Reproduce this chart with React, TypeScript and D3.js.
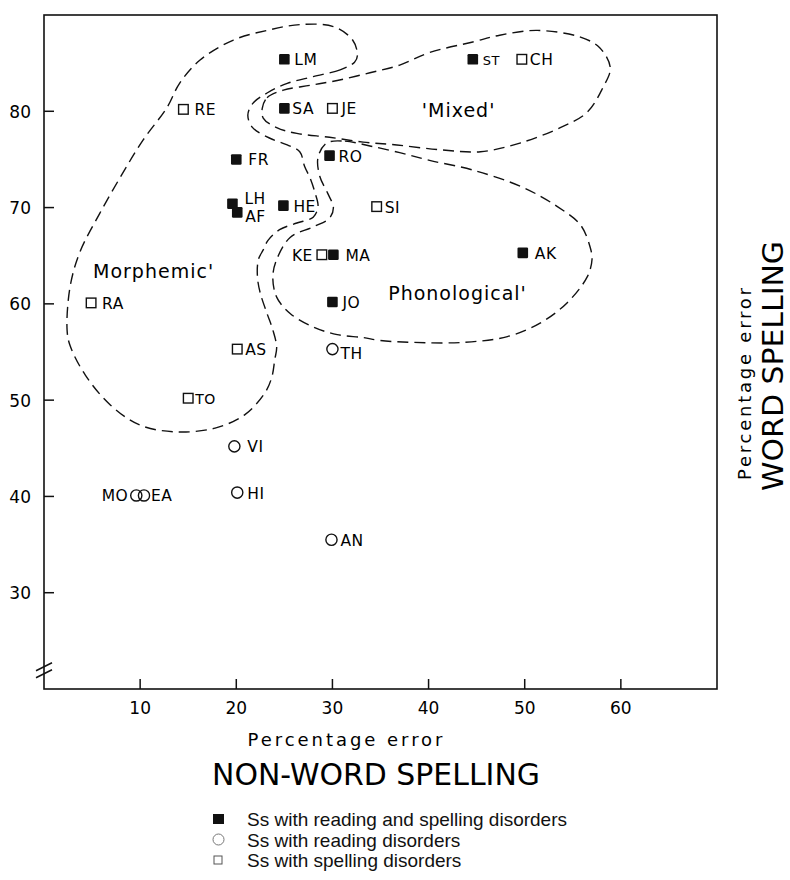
import React, { useEffect, useRef } from 'react';
import * as d3 from 'd3';

// Subjects, percentage error on non-word (x) and word (y) spelling
const subjects = ['LM', 'SA', 'JE', 'RE', 'FR', 'RO', 'LH', 'AF', 'HE', 'SI', 'KE', 'MA', 'JO', 'RA', 'ST', 'CH', 'AK', 'AS', 'TH', 'TO', 'VI', 'MO', 'EA', 'HI', 'AN'];
const nonWordError = [25, 25, 30, 14.5, 20, 29.7, 19.6, 20.1, 24.9, 34.6, 28.9, 30.1, 30, 4.9, 44.6, 49.7, 49.8, 20.1, 30, 15, 19.8, 9.6, 10.4, 20.1, 29.9];
const wordError = [85.4, 80.3, 80.3, 80.2, 75, 75.4, 70.4, 69.5, 70.2, 70.1, 65.1, 65.1, 60.2, 60.1, 85.4, 85.4, 65.3, 55.3, 55.3, 50.2, 45.2, 40.1, 40.1, 40.4, 35.5];
// both = reading and spelling disorders, reading = reading only, spelling = spelling only
const groups = ['both', 'both', 'spelling', 'spelling', 'both', 'both', 'both', 'both', 'both', 'spelling', 'spelling', 'both', 'both', 'spelling', 'both', 'spelling', 'both', 'spelling', 'reading', 'spelling', 'reading', 'reading', 'reading', 'reading', 'reading'];

const xTicks = [10, 20, 30, 40, 50, 60];
const yTicks = [30, 40, 50, 60, 70, 80];

// Hand-drawn group outlines, in data units
const morphemicOutline: [number, number][] = [
  [32.3, 85.1], [30.8, 84.3], [28.0, 83.6], [25.3, 82.9], [23.2, 81.9], [21.7, 80.8], [21.2, 79.6],
  [21.7, 78.3], [23.5, 77.2], [25.3, 76.5], [26.6, 75.8], [27.1, 74.3], [27.7, 73.0], [28.2, 71.5],
  [28.5, 70.1], [28.0, 69.0], [26.3, 68.4], [24.5, 67.7], [23.3, 66.6], [22.8, 65.6], [22.3, 64.6],
  [22.2, 62.8], [22.5, 61.1], [23.2, 59.0], [23.8, 57.3], [24.2, 55.5], [24.0, 54.2], [23.7, 52.4],
  [23.0, 50.8], [20.9, 48.5], [17.8, 47.1], [13.8, 46.7], [10.0, 47.4], [6.9, 49.5], [4.3, 52.6],
  [2.7, 55.7], [2.4, 57.3], [2.7, 61.7], [3.7, 65.3], [5.8, 69.4], [8.2, 73.6], [10.3, 77.0],
  [12.8, 80.4], [14.1, 82.9], [16.2, 85.3], [19.7, 87.4], [23.2, 88.4], [26.6, 89.0], [30.1, 88.8],
  [32.1, 87.4], [32.6, 85.8]
];
const mixedOutline: [number, number][] = [
  [22.7, 80.3], [23.2, 81.4], [24.9, 82.2], [27.7, 82.7], [30.5, 83.2], [33.9, 84.0], [37.0, 84.8],
  [40.1, 86.1], [44.6, 87.2], [47.4, 87.9], [51.3, 88.4], [55.8, 87.7], [57.8, 86.6], [58.9, 84.5],
  [58.1, 82.4], [56.5, 79.9], [53.7, 78.3], [49.5, 76.7], [45.4, 75.8], [41.2, 76.0], [36.7, 76.5],
  [33.2, 76.8], [29.7, 77.3], [26.3, 77.7], [24.2, 78.3], [22.8, 79.3]
];
const phonologicalOutline: [number, number][] = [
  [29.4, 76.7], [31.3, 76.9], [33.9, 76.4], [37.0, 75.7], [40.1, 74.9], [44.6, 73.9], [49.8, 72.1],
  [53.4, 70.1], [55.8, 68.2], [56.8, 65.9], [57.0, 64.6], [56.5, 62.8], [54.4, 60.1], [51.6, 58.0],
  [48.2, 56.6], [43.6, 56.0], [38.4, 56.0], [34.9, 56.2], [33.2, 56.5], [30.5, 56.8], [28.0, 57.6],
  [25.6, 59.0], [24.2, 60.7], [23.8, 62.8], [24.2, 64.6], [25.6, 66.9], [28.0, 68.0], [29.7, 68.9],
  [30.1, 70.0], [29.5, 71.5], [28.7, 73.2], [28.5, 75.2]
];
const regionNames = ["Morphemic'", "'Mixed'", "Phonological'"];

const legendLabels = [
  'Ss with reading and spelling disorders',
  'Ss with reading disorders',
  'Ss with spelling disorders'
];

// label placement tweaks (pixels from marker centre)
const labelTweaks: Record<string, { dx?: number; dy?: number; end?: boolean; size?: number }> = {
  SA: { dx: 8 }, JE: { dx: 9 }, RE: { dx: 11 }, FR: { dx: 12 }, RO: { dx: 9 },
  LH: { dx: 12, dy: 0 }, AF: { dx: 8, dy: 10 }, SI: { dx: 8 }, KE: { dx: -9, end: true },
  MA: { dx: 12 }, RA: { dx: 11 }, ST: { dx: 10, size: 13 }, CH: { dx: 8 }, AK: { dx: 12 },
  AS: { dx: 8 }, TH: { dx: 8, dy: 10 }, TO: { dx: 7, size: 14 }, VI: { dx: 13 },
  MO: { dx: -8, end: true }, EA: { dx: 7 }, AN: { dx: 9 }
};
// region label anchors, in data units
const regionAnchors: [number, number][] = [[5.1, 62.7], [39.3, 79.4], [35.8, 60.4]];

const FONT = "'DejaVu Sans', sans-serif";

export default function App() {
  const svgRef = useRef<SVGSVGElement>(null);

  useEffect(() => {
    document.body.style.margin = '0';
    if (!svgRef.current) return;
    const svg = d3.select(svgRef.current);
    svg.selectAll('*').remove();

    const x = d3.scaleLinear().domain([0, 70]).range([44, 717]);
    const y = d3.scaleLinear().domain([20, 90]).range([689, 15]);

    const [x0, x1] = x.range();
    const [yb, yt] = y.range();

    // frame
    svg.append('rect')
      .attr('x', x0).attr('y', yt)
      .attr('width', x1 - x0).attr('height', yb - yt)
      .attr('fill', 'none').attr('stroke', '#111').attr('stroke-width', 1.6);

    // axis break
    const yBreak = y(21.9);
    [-4, 3].forEach(off => {
      svg.append('line')
        .attr('x1', x0 - 8).attr('y1', yBreak + off + 4)
        .attr('x2', x0 + 8).attr('y2', yBreak + off - 4)
        .attr('stroke', '#111').attr('stroke-width', 1.5);
    });

    // ticks
    svg.append('g').selectAll('line').data(yTicks).enter().append('line')
      .attr('x1', x0).attr('x2', x0 + 10)
      .attr('y1', d => y(d)).attr('y2', d => y(d))
      .attr('stroke', '#111').attr('stroke-width', 1.5);
    svg.append('g').selectAll('text').data(yTicks).enter().append('text')
      .attr('x', x0 - 13).attr('y', d => y(d) + 6.5)
      .attr('text-anchor', 'end')
      .attr('font-family', FONT).attr('font-size', 17)
      .text(d => d);

    svg.append('g').selectAll('line').data(xTicks).enter().append('line')
      .attr('x1', d => x(d)).attr('x2', d => x(d))
      .attr('y1', yb).attr('y2', yb - 10)
      .attr('stroke', '#111').attr('stroke-width', 1.5);
    svg.append('g').selectAll('text').data(xTicks).enter().append('text')
      .attr('x', d => x(d)).attr('y', yb + 25)
      .attr('text-anchor', 'middle')
      .attr('font-family', FONT).attr('font-size', 17)
      .text(d => d);

    // outlines
    const outline = d3.line<[number, number]>()
      .x(d => x(d[0]))
      .y(d => y(d[1]))
      .curve(d3.curveCatmullRomClosed.alpha(0.5));

    [morphemicOutline, mixedOutline, phonologicalOutline].forEach(pts => {
      svg.append('path')
        .attr('d', outline(pts))
        .attr('fill', 'none')
        .attr('stroke', '#111')
        .attr('stroke-width', 1.4)
        .attr('stroke-dasharray', '11,6');
    });

    regionNames.forEach((name, i) => {
      svg.append('text')
        .attr('x', x(regionAnchors[i][0]))
        .attr('y', y(regionAnchors[i][1]))
        .attr('font-family', FONT)
        .attr('font-size', 19)
        .attr('letter-spacing', 1)
        .text(name);
    });

    // points
    const data = subjects.map((code, i) => ({
      code,
      nx: nonWordError[i],
      wy: wordError[i],
      group: groups[i]
    }));

    const marks = svg.append('g');
    data.forEach(d => {
      const cx = x(d.nx);
      const cy = y(d.wy);
      if (d.group === 'reading') {
        marks.append('circle')
          .attr('cx', cx).attr('cy', cy).attr('r', 5.6)
          .attr('fill', 'none').attr('stroke', '#111').attr('stroke-width', 1.4);
      } else if (d.group === 'both') {
        marks.append('rect')
          .attr('x', cx - 5.3).attr('y', cy - 5.3)
          .attr('width', 10.6).attr('height', 10.6).attr('rx', 1.2)
          .attr('fill', '#111');
      } else {
        marks.append('rect')
          .attr('x', cx - 4.8).attr('y', cy - 4.8)
          .attr('width', 9.6).attr('height', 9.6)
          .attr('fill', 'white').attr('stroke', '#111').attr('stroke-width', 1.4);
      }
      const t = labelTweaks[d.code] || {};
      marks.append('text')
        .attr('x', cx + (t.dx ?? 10))
        .attr('y', cy + (t.dy ?? 6))
        .attr('text-anchor', t.end ? 'end' : 'start')
        .attr('font-family', FONT)
        .attr('font-size', t.size ?? 15.5)
        .attr('letter-spacing', 0.5)
        .text(d.code);
    });

    // axis titles
    svg.append('text')
      .attr('x', 345).attr('y', 746)
      .attr('text-anchor', 'middle')
      .attr('font-family', FONT).attr('font-size', 18)
      .attr('textLength', 195).attr('lengthAdjust', 'spacing')
      .text('Percentage  error');
    svg.append('text')
      .attr('x', 376).attr('y', 785)
      .attr('text-anchor', 'middle')
      .attr('font-family', FONT).attr('font-size', 30)
      .attr('textLength', 328).attr('lengthAdjust', 'spacingAndGlyphs')
      .text('NON-WORD SPELLING');

    svg.append('text')
      .attr('transform', 'translate(751,384) rotate(-90)')
      .attr('text-anchor', 'middle')
      .attr('font-family', FONT).attr('font-size', 18)
      .attr('textLength', 192).attr('lengthAdjust', 'spacing')
      .text('Percentage  error');
    svg.append('text')
      .attr('transform', 'translate(783,366) rotate(-90)')
      .attr('text-anchor', 'middle')
      .attr('font-family', FONT).attr('font-size', 29)
      .attr('textLength', 250).attr('lengthAdjust', 'spacingAndGlyphs')
      .text('WORD SPELLING');

    // legend
    const legend = svg.append('g');
    legendLabels.forEach((label, i) => {
      const ly = 819 + i * 20.5;
      if (i === 0) {
        legend.append('rect')
          .attr('x', 213).attr('y', ly - 5).attr('width', 11).attr('height', 10)
          .attr('fill', '#111');
      } else if (i === 1) {
        legend.append('circle')
          .attr('cx', 218.5).attr('cy', ly).attr('r', 5.5)
          .attr('fill', 'none').attr('stroke', '#777').attr('stroke-width', 1);
      } else {
        legend.append('rect')
          .attr('x', 214).attr('y', ly - 4).attr('width', 8).attr('height', 8)
          .attr('fill', 'none').attr('stroke', '#555').attr('stroke-width', 1);
      }
      legend.append('text')
        .attr('x', 247).attr('y', ly + 7)
        .attr('font-family', "'Liberation Sans', Arial, sans-serif")
        .attr('font-size', 19)
        .attr('fill', '#111')
        .text(label);
    });
  }, []);

  return (
    <svg ref={svgRef} width={790} height={880} style={{ display: 'block', background: 'white' }} />
  );
}
